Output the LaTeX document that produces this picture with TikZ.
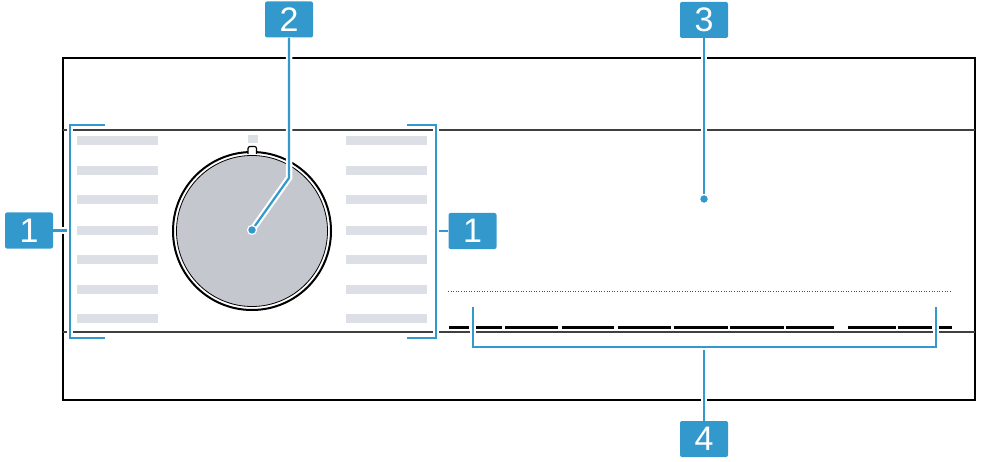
\documentclass[tikz,border=0pt]{standalone}
\usepackage{fontspec}
\setmainfont{Liberation Sans}
\definecolor{callout}{HTML}{3399CC}
\definecolor{barcol}{HTML}{DCDFE6}
\definecolor{knobcol}{HTML}{C4C8CE}
\tikzset{
  lab/.style={fill=callout, text=white, rounded corners=2pt, inner sep=0pt,
    minimum width=48pt, minimum height=36pt, font=\fontsize{34}{34}\selectfont},
  leader/.style={draw=callout, line width=2.2pt,
    preaction={draw=white, line width=6.5pt}},
  leaddot/.style={fill=callout, draw=white, line width=1.2pt},
  bar/.style={fill=barcol},
  thinline/.style={draw=black!75, line width=1.2pt},
  dashseg/.style={draw=black, line width=2.2pt},
  dashthick/.style={draw=black, line width=3pt}
}
\begin{document}
\begin{tikzpicture}[x=1pt,y=-1pt]
\useasboundingbox (0,0) rectangle (981,462);
% frame and panel lines
\draw[line width=2.5pt] (63,58) rectangle (975,400);
\draw[thinline] (63,130) -- (975,130);
\draw[thinline] (63,332) -- (975,332);
% program text bars
\foreach \yy in {141,171,200,230,259,289,318} {
  \fill[bar] (77,\yy-4.5) rectangle (158,\yy+4.5);
  \fill[bar] (346,\yy-4.5) rectangle (427,\yy+4.5);
}
% knob
\fill[bar] (248,135) rectangle (258,143);
\draw[fill=white, line width=2pt] (252,231) circle (79);
\draw[fill=knobcol, line width=0.8pt] (252,231) circle (75.5);
\draw[fill=white, line width=1.2pt, rounded corners=2pt] (248,154) -- (248,146.5) -- (256.5,146.5) -- (256.5,154);
% display
\draw[draw=black!70, line width=0.9pt, dash pattern=on 1pt off 1.6pt] (448,291) -- (952,291);
\foreach \a/\b in {449/469,476/502,505/558,562/614,618/671,674/728}
  \draw[dashseg] (\a,327.5) -- (\b,327.5);
\foreach \a/\b in {730/784,786/834,848/896,898/932,939/952}
  \draw[dashthick] (\a,327.5) -- (\b,327.5);
% labels
\node[lab] (L1a) at (29,230.5) {1};
\node[lab] (L1b) at (472.5,231) {1};
\node[lab] (L2) at (289,19.5) {2};
\node[lab] (L3) at (704,20) {3};
\node[lab] (L4) at (704,439) {4};
% leader points
\coordinate (B1a) at (70,230.5);
\coordinate (B1b) at (436,231);
\coordinate (K2) at (289,178);
\coordinate (D2) at (252,230);
\coordinate (D3) at (704,199);
\coordinate (B4) at (704,347);
% leaders
\draw[leader] (L1a.east) -- (B1a);
\draw[leader] (105,125) -- (70,125) -- (70,338) -- (105,338);
\draw[leader] (L1b.west) -- (B1b);
\draw[leader] (407,125) -- (436,125) -- (436,338) -- (407,338);
\draw[leader] (L2.south) -- (K2) -- (D2);
\draw[leader] (L3.south) -- (D3);
\draw[leader] (L4.north) -- (B4);
\draw[leader] (473,307) -- (473,347) -- (936,347) -- (936,307);
\draw[leaddot] (D2) circle (4.5);
\draw[leaddot] (D3) circle (4.5);
\end{tikzpicture}
\end{document}
